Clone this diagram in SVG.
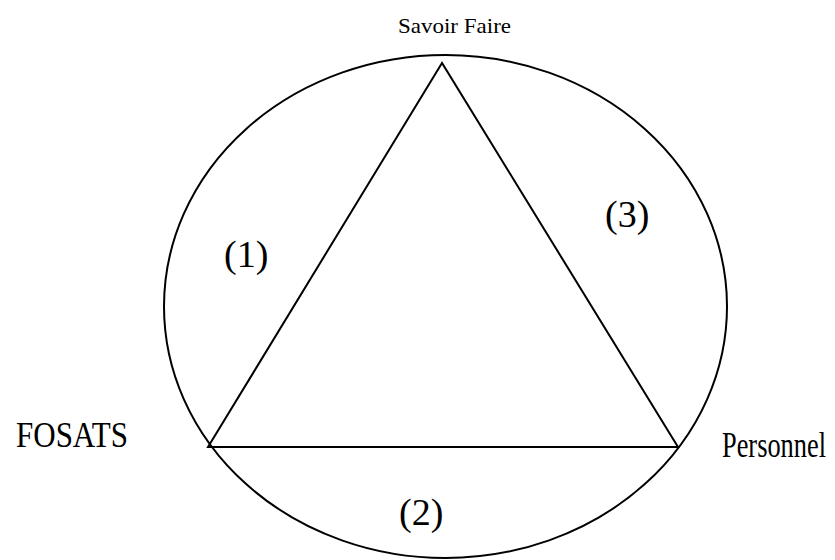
<svg xmlns="http://www.w3.org/2000/svg" width="835" height="560" viewBox="0 0 835 560">
<style>
.ln{fill:none;stroke:#000;stroke-width:2}
.t{fill:#000;font-family:'Liberation Serif','Times New Roman','DejaVu Serif',serif}
</style>
<rect width="835" height="560" fill="#fff"/>
<g id="connectors">
<ellipse class="ln" cx="445.5" cy="306.5" rx="281.5" ry="251.5"/>
<polygon class="ln" points="442,63 208,447 678,447"/>
</g>
<g id="savoir"><text class="t" x="398" y="33" font-size="21" textLength="113" lengthAdjust="spacingAndGlyphs">Savoir Faire</text></g>
<g id="fosats"><text class="t" x="16" y="447" font-size="36" textLength="112" lengthAdjust="spacingAndGlyphs">FOSATS</text></g>
<g id="personnel"><text class="t" transform="translate(722,457) scale(1,1.27)" x="0" y="0" font-size="28" textLength="104" lengthAdjust="spacingAndGlyphs">Personnel</text></g>
<g id="l1"><text class="t" x="224" y="267" font-size="38">(1)</text></g>
<g id="l3"><text class="t" x="605" y="227" font-size="38">(3)</text></g>
<g id="l2"><text class="t" x="399" y="525" font-size="38">(2)</text></g>
</svg>
